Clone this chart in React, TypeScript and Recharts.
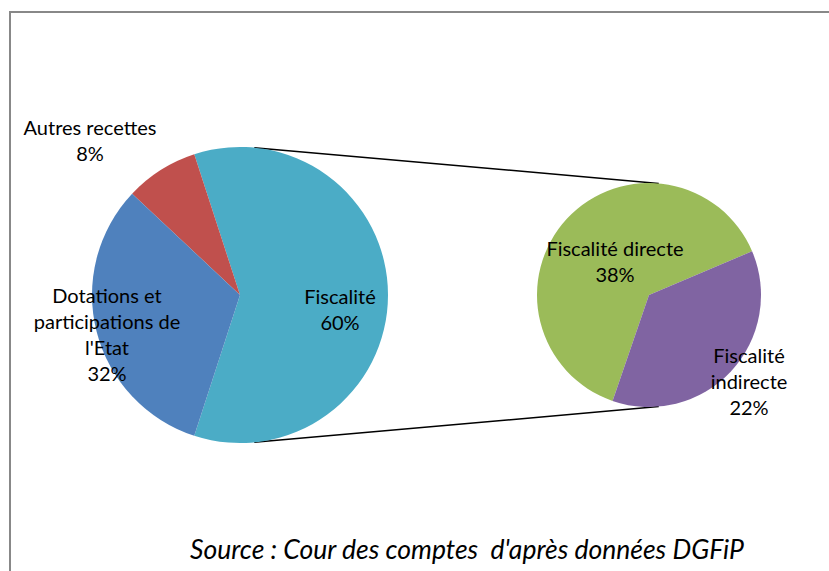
import { Cell, Customized, Pie, PieChart } from 'recharts'

// main pie: recettes
const mainNames = ['Fiscalité', 'Autres recettes', "Dotations et participations de l'Etat"]
const mainValues = [60, 8, 32]
const mainLabelLines = [['Fiscalité', '60%'], ['Autres recettes', '8%'], ['Dotations et', 'participations de', "l'Etat", '32%']]

// secondary pie: detail of fiscalité
const subNames = ['Fiscalité directe', 'Fiscalité indirecte']
const subValues = [38, 22]
const subLabelLines = [['Fiscalité directe', '38%'], ['Fiscalité', 'indirecte', '22%']]

const MAIN_COLORS = ['#4BACC6', '#C0504D', '#4F81BD']
const SUB_COLORS = ['#9BBB59', '#8064A2']

const W = 829
const H = 571
const MAIN = { cx: 240, cy: 295, r: 148 }
const SUB = { cx: 649, cy: 295, r: 112 }
const FONT = 'Lato, Calibri, sans-serif'
const LINE_H = 26

// label anchors relative to each pie centre (first line centre)
const MAIN_LABEL_OFFSETS = [
  [100, 1],
  [-150, -168],
  [-133, 0],
]
const SUB_LABEL_OFFSETS = [
  [-34, -47],
  [100, 60],
]

const mainData = mainNames.map((name, i) => ({ name, value: mainValues[i], lines: mainLabelLines[i] }))
const subData = subNames.map((name, i) => ({ name, value: subValues[i], lines: subLabelLines[i] }))

function makeLabel(offsets: number[][], centre: { cx: number; cy: number }) {
  return (props: any) => {
    const i = props.index
    const x = centre.cx + offsets[i][0]
    const y = centre.cy + offsets[i][1]
    const lines: string[] = props.payload?.lines ?? props.lines ?? []
    return (
      <text
        x={x}
        y={y}
        textAnchor="middle"
        dominantBaseline="central"
        fontFamily={FONT}
        fontSize={20}
        fill="#000"
      >
        {lines.map((l, k) => (
          <tspan key={k} x={x} dy={k === 0 ? 0 : LINE_H}>
            {l}
          </tspan>
        ))}
      </text>
    )
  }
}

function Connectors() {
  const rad = Math.PI / 180
  const a1 = 84.5
  const a2 = 85
  const p = (c: { cx: number; cy: number; r: number }, a: number) => [c.cx + c.r * Math.cos(a * rad), c.cy - c.r * Math.sin(a * rad)]
  const [x1, y1] = p(MAIN, a1)
  const [x2, y2] = p(SUB, a2)
  const [x3, y3] = p(MAIN, -a1)
  const [x4, y4] = p(SUB, -a2)
  return (
    <g stroke="#000" strokeWidth={1.5}>
      <line x1={x1} y1={y1} x2={x2} y2={y2} />
      <line x1={x3} y1={y3} x2={x4} y2={y4} />
    </g>
  )
}

export default function App() {
  return (
    <div style={{ position: 'absolute', left: 0, top: 0, width: W, height: H, background: '#fff' }}>
      <PieChart width={W} height={H} margin={{ top: 0, right: 0, bottom: 0, left: 0 }}>
        <rect x={10} y={12} width={W} height={H} fill="none" stroke="#888" strokeWidth={2} />
        <Customized component={<Connectors />} />
        <Pie
          data={mainData}
          dataKey="value"
          cx={MAIN.cx}
          cy={MAIN.cy}
          outerRadius={MAIN.r}
          startAngle={-108}
          endAngle={252}
          stroke="none"
          label={makeLabel(MAIN_LABEL_OFFSETS, MAIN)}
          labelLine={false}
          isAnimationActive={false}
        >
          {mainData.map((d, i) => (
            <Cell key={d.name} fill={MAIN_COLORS[i]} />
          ))}
        </Pie>
        <Pie
          data={subData}
          dataKey="value"
          cx={SUB.cx}
          cy={SUB.cy}
          outerRadius={SUB.r}
          startAngle={23}
          endAngle={383}
          stroke="none"
          label={makeLabel(SUB_LABEL_OFFSETS, SUB)}
          labelLine={false}
          isAnimationActive={false}
        >
          {subData.map((d, i) => (
            <Cell key={d.name} fill={SUB_COLORS[i]} />
          ))}
        </Pie>
        <text
          x={467}
          y={549}
          textAnchor="middle"
          dominantBaseline="central"
          fontFamily={FONT}
          fontStyle="italic"
          fontSize={26.5}
          fill="#000"
          style={{ whiteSpace: 'pre' }}
        >
          Source : Cour des comptes  d'après données DGFiP
        </text>
      </PieChart>
    </div>
  )
}
